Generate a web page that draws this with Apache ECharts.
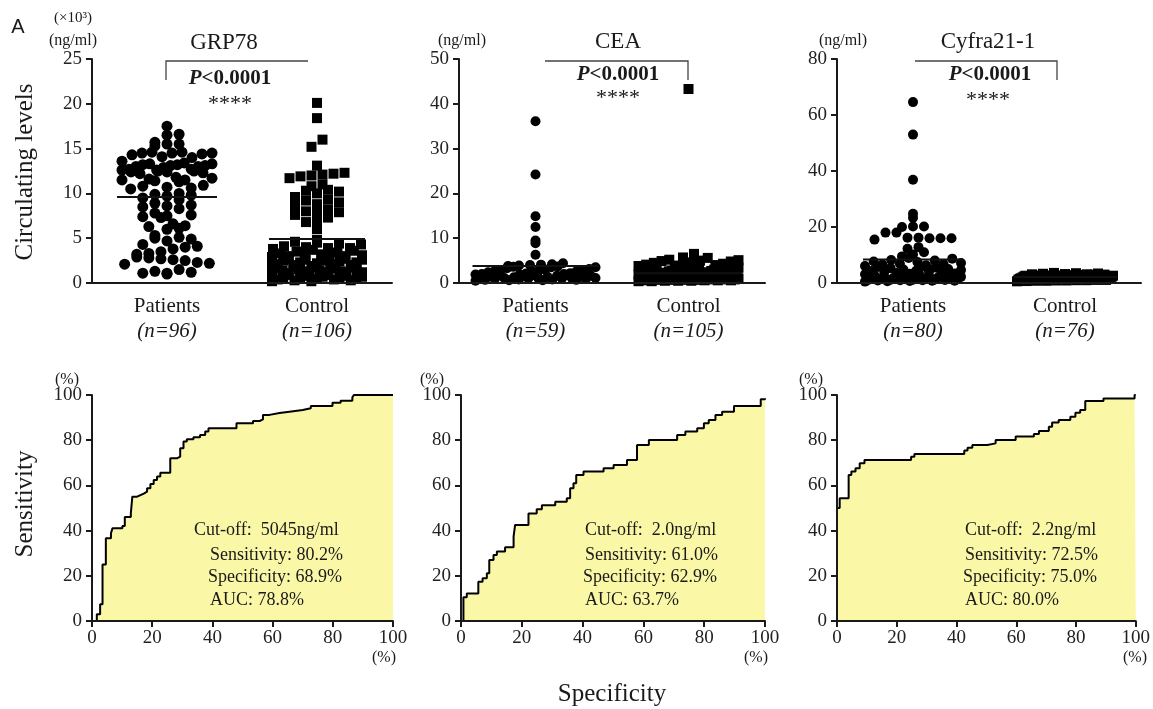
<!DOCTYPE html>
<html>
<head>
<meta charset="utf-8">
<script src="https://cdn.jsdelivr.net/npm/echarts@6/dist/echarts.min.js"></script>
<style>
  html, body { margin: 0; padding: 0; background: #fff; }
  #main { width: 1153px; height: 709px; }
</style>
</head>
<body>
<div id="main"></div>
<script>
// ---- data ----
const groups = ['Patients', 'Control'];

// GRP78 (x10^3 ng/ml)
const grpPatients = [17.5, 16.6, 16.5, 15.7, 15.5, 15.5, 15.3, 14.6, 14.5, 14.5, 14.4, 14.5, 14.3, 14.6, 14.0, 14.1, 13.6,
  13.3, 13.2, 13.1, 13.0, 13.2, 13.4, 13.1, 12.9, 13.0, 13.3,
  12.7, 12.6, 12.5, 12.4, 12.6, 12.5, 12.3, 12.7, 12.4, 12.2,
  11.8, 11.6, 11.5, 11.4, 11.7, 11.3, 11.5,
  10.9, 10.7, 10.6, 10.8, 10.5,
  10.0, 9.8, 9.7, 9.5, 9.9, 9.3,
  8.9, 8.6, 8.5, 8.3, 8.7,
  7.8, 7.5, 7.4, 7.3, 7.6,
  6.6, 6.3, 6.1, 6.4, 6.0,
  5.3, 5.0, 4.9, 5.1, 4.7,
  4.3, 4.0, 3.8, 4.1,
  3.5, 3.2, 3.3,
  2.9, 2.7, 2.6, 2.8, 2.5,
  2.3, 2.2, 2.1,
  1.5, 1.3, 1.2, 1.1, 1.1, 1.0];
const grpControl = [20.1, 18.4, 16.0, 15.2, 13.1, 12.3, 12.1, 11.9, 12.0, 12.2, 11.7, 11.0, 10.8, 10.3, 10.2, 10.0,
  10.4, 9.6, 9.2, 9.0, 9.3, 8.8, 8.6, 8.0, 7.9, 8.2, 7.8, 7.6, 7.0, 6.8, 7.3, 6.0,
  4.8, 4.6, 4.5, 4.4, 4.1, 4.0, 3.9, 3.9, 3.7, 3.6,
  3.5, 3.4, 3.3, 3.2, 3.1, 3.0, 3.0, 2.9, 2.8, 2.7,
  2.7, 2.6, 2.5, 2.5, 2.4, 2.3, 2.3, 2.2, 2.1, 2.1,
  2.0, 2.0, 1.9, 1.8, 1.8, 1.7, 1.6, 1.6, 1.5, 1.5,
  1.4, 1.4, 1.3, 1.3, 1.2, 1.2, 1.1, 1.1, 1.0, 1.0,
  0.9, 0.9, 0.8, 0.8, 0.7, 0.7, 0.6, 0.6, 0.5, 0.5,
  0.4, 0.4, 0.3, 0.3, 0.2, 0.2,
  3.8, 2.6, 1.7, 4.3, 2.9, 1.9, 3.1, 0.6];

// CEA (ng/ml)
const ceaPatients = [36.1, 24.2, 14.9, 12.5, 9.5, 8.9, 6.3,
  4.4, 4.2, 4.1, 3.9, 3.8, 3.6, 3.5, 3.5, 3.3, 3.1,
  3.0, 2.9, 2.8, 2.6, 2.6, 2.5, 2.4, 2.2, 2.1, 2.0,
  2.0, 1.9, 1.8, 1.8, 1.7, 1.6, 1.5, 1.5, 1.4, 1.4,
  1.3, 1.3, 1.2, 1.2, 1.1, 1.1, 1.0, 1.0, 0.9, 0.9,
  0.8, 0.8, 0.7, 0.7, 0.6, 0.6, 4.0, 3.7, 2.7, 1.6, 1.9, 0.5];
const ceaControl = [43.3, 6.5, 5.7, 5.6, 5.2, 5.1, 5.0, 4.9, 4.8, 4.6,
  4.5, 4.3, 4.2, 4.0, 3.9, 3.8, 3.6, 3.5, 3.4, 3.3,
  3.2, 3.1, 3.0, 3.0, 2.9, 2.8, 2.7, 2.7, 2.6, 2.5,
  2.5, 2.4, 2.3, 2.3, 2.2, 2.2, 2.1, 2.0, 2.0, 1.9,
  1.9, 1.8, 1.8, 1.7, 1.7, 1.6, 1.6, 1.5, 1.5, 1.5,
  1.4, 1.4, 1.4, 1.3, 1.3, 1.3, 1.2, 1.2, 1.2, 1.1,
  1.1, 1.1, 1.0, 1.0, 1.0, 0.9, 0.9, 0.9, 0.8, 0.8,
  0.8, 0.7, 0.7, 0.7, 0.6, 0.6, 0.6, 0.5, 0.5, 0.5,
  0.4, 0.4, 3.7, 2.4, 1.6, 1.2, 0.9, 4.1, 2.8, 1.9,
  1.3, 0.7, 3.2, 2.1, 1.4, 1.0, 0.6, 2.6, 1.7, 1.1,
  0.8, 3.5, 2.2, 1.5, 0.9];

// Cyfra21-1 (ng/ml)
const cyfPatients = [64.6, 53.0, 36.9, 24.7, 23.3, 20.2, 20.2, 20.0, 18.0, 18.0, 16.2, 16.0, 16.0, 16.0, 15.5, 16.2,
  12.8, 12.2, 11.0, 10.2, 9.5,
  8.9, 8.7, 8.2, 8.0, 7.7, 7.5, 7.1, 6.9, 6.6, 6.3,
  6.1, 5.9, 5.5, 5.3, 5.0, 4.8, 4.6, 4.4, 4.1, 3.9,
  3.8, 3.6, 3.4, 3.3, 3.1, 2.9, 2.8, 2.7, 2.5, 2.4,
  2.3, 2.2, 2.0, 1.9, 1.8, 1.7, 1.6, 1.5, 1.4, 1.3,
  1.2, 1.2, 1.1, 1.0, 1.0, 0.9, 0.8, 0.7, 0.6, 0.5,
  6.8, 4.3, 2.6, 1.5, 3.0, 5.7, 2.1, 1.1, 0.8];
const cyfControl = [3.6, 3.5, 3.4, 3.3, 3.2, 3.1, 3.0, 3.0, 2.9, 2.8,
  2.8, 2.7, 2.7, 2.6, 2.6, 2.5, 2.5, 2.4, 2.4, 2.3,
  2.3, 2.3, 2.2, 2.2, 2.2, 2.1, 2.1, 2.1, 2.0, 2.0,
  2.0, 1.9, 1.9, 1.9, 1.8, 1.8, 1.8, 1.7, 1.7, 1.7,
  1.6, 1.6, 1.6, 1.5, 1.5, 1.5, 1.4, 1.4, 1.4, 1.3,
  1.3, 1.3, 1.2, 1.2, 1.1, 1.1, 1.0, 1.0, 0.9, 0.9,
  0.8, 0.8, 0.7, 0.6, 2.4, 1.9, 1.5, 2.7, 2.0, 1.6,
  3.1, 1.2, 2.2, 1.8, 1.4, 2.5];

// mean lines: [patients, control]
const grpMeans = [9.6, 4.9];
const ceaMeans = [3.8, 2.2];
const cyfMeans = [8.4, 2.1];
const grpN = [96, 106];
const ceaN = [59, 105];
const cyfN = [80, 76];

// ROC curves: [100 - specificity %, sensitivity %]
const rocGrp = [[0, 0], [1.6, 3], [2.7, 7.4], [3.5, 25], [4.6, 36.6], [6.3, 38.8], [6.8, 41], [10.1, 42], [10.9, 46],
  [12.9, 47.6], [13.4, 55], [15, 55.7], [16.1, 56.4], [17.2, 57.2], [18.3, 58.7], [19.4, 60.6], [20.5, 62.4],
  [21.6, 63.9], [22.7, 65.6], [26, 72], [28.2, 72.7], [29.3, 76.4], [30.4, 79.4], [31.5, 80.4], [33.7, 81.3],
  [35.9, 82.3], [37.6, 83.8], [38.7, 85.3], [48, 87.5], [53.5, 88.5], [55.7, 89.2], [56.8, 91.2], [59, 92],
  [62.3, 92.6], [65.6, 93.4], [70, 94.1], [72.7, 95.1], [79.9, 96.6], [82.6, 97.5], [86.5, 99], [87, 100], [100, 100]];
const rocCea = [[0, 0], [0.8, 10.5], [1.9, 12.2], [5.7, 17.4], [7.1, 18.9], [8.5, 21.1], [9.3, 27], [10.7, 29.2],
  [11.8, 30.7], [14.5, 32.6], [17.3, 37.3], [17.8, 42.5], [22.2, 47.6], [24.9, 49.4], [26.6, 51.2], [31, 52.8],
  [34.8, 54.3], [35.9, 58.7], [37, 60.9], [37.9, 64.6], [40.3, 66.1], [46.9, 67.6], [50.2, 69], [54.6, 71.2],
  [57.9, 77.9], [61.8, 80.1], [71.1, 82.3], [73.8, 83.8], [77.7, 85.3], [79.9, 87.5], [81.5, 88.9], [83.7, 91.2],
  [85.9, 92.6], [89.8, 95.1], [98.6, 98.1], [100, 98.6]];
const rocCyf = [[0, 50], [0.9, 54.3], [3.9, 64.6], [4.8, 66.1], [6.2, 67.6], [7.6, 69.8], [9.2, 71.2], [24.8, 72.7],
  [25.9, 73.9], [42.6, 75.4], [43.7, 76.7], [45.3, 77.9], [50.3, 78.6], [53.1, 80.1], [59.8, 81.6], [65.9, 82.7],
  [67.6, 84.1], [70.9, 86], [72, 87.8], [74.2, 88.9], [78.1, 90.4], [79.8, 92.2], [81.4, 93.4], [83.1, 97.3],
  [89.2, 98.5], [99.6, 100], [100, 100]];

const cutoffs = ['5045ng/ml', '2.0ng/ml', '2.2ng/ml'];
const sens = ['80.2%', '61.0%', '72.5%'];
const specs = ['68.9%', '62.9%', '75.0%'];
const aucs = ['78.8%', '63.7%', '80.0%'];

// ---- layout ----
const FONT = 'Liberation Serif';
const INK = '#1a1a1a';
const topGrids = [
  { left: 92, top: 59, width: 300, height: 224 },
  { left: 459, top: 59, width: 306, height: 224 },
  { left: 837, top: 59, width: 304, height: 224 }
];
const rocGrids = [
  { left: 92, top: 395, width: 301, height: 226 },
  { left: 461, top: 395, width: 304, height: 226 },
  { left: 837, top: 395, width: 300, height: 226 }
];

function gcd(a, b) { return b ? gcd(b, a % b) : a; }

// GraphPad style column scatter: points in a value band are spread sideways
function swarm(values, yMax, g, center, sym, halfPx) {
  const binV = sym * 0.85 * yMax / g.height;
  const bins = {};
  values.forEach(v => {
    const k = Math.floor(v / binV);
    (bins[k] = bins[k] || []).push(v);
  });
  const out = [];
  Object.keys(bins).forEach(k => {
    const arr = bins[k].slice().sort((a, b) => a - b);
    const n = arr.length;
    const step = n > 1 ? Math.min(sym * 1.1, 2 * halfPx / (n - 1)) : 0;
    // fixed stride permutation so sorted values don't form a ramp
    const stride = [7, 5, 3, 11, 13].find(s => gcd(s, n) === 1) || 1;
    arr.forEach((v, i) => {
      const slot = (i * stride) % n;
      const off = (slot - (n - 1) / 2) * step;
      out.push([center + off / (g.width / 2), v]);
    });
  });
  return out;
}

const axisLine = { lineStyle: { color: INK, width: 2 } };
const axisTick = { length: 6, lineStyle: { color: INK, width: 2 } };
const axisLabel = { color: '#222', fontFamily: FONT, fontSize: 19, margin: 10 };

const panels = [
  { pat: grpPatients, con: grpControl, means: grpMeans, n: grpN, max: 25, step: 5, sym: [11, 10], half: [45, 45], mean: [50, 48] },
  { pat: ceaPatients, con: ceaControl, means: ceaMeans, n: ceaN, max: 50, step: 10, sym: [10, 10], half: [60, 50], mean: [63, 54] },
  { pat: cyfPatients, con: cyfControl, means: cyfMeans, n: cyfN, max: 80, step: 20, sym: [10, 10], half: [48, 48], mean: [50, 52] }
];
const rocs = [rocGrp, rocCea, rocCyf];

const grid = topGrids.concat(rocGrids);
const xAxis = [];
const yAxis = [];
const series = [];

panels.forEach((p, i) => {
  xAxis.push({
    type: 'category', gridIndex: i, data: groups, z: 10,
    axisLine, axisTick: Object.assign({ alignWithLabel: true }, axisTick),
    axisLabel: {
      margin: 11,
      formatter: (v, idx) => '{a|' + v + '}\n{b|(n=' + p.n[idx] + ')}',
      rich: {
        a: { fontFamily: FONT, fontSize: 21, color: INK, lineHeight: 25 },
        b: { fontFamily: FONT, fontSize: 21, fontStyle: 'italic', color: INK, lineHeight: 25 }
      }
    }
  });
});
panels.forEach((p, i) => {
  xAxis.push({ type: 'value', gridIndex: i, min: 0, max: 2, show: false });
  yAxis.push({
    type: 'value', gridIndex: i, min: 0, max: p.max, interval: p.step, z: 10,
    axisLine: Object.assign({ show: true }, axisLine), axisTick: Object.assign({ show: true }, axisTick),
    splitLine: { show: false }, axisLabel
  });
});
rocs.forEach((r, i) => {
  xAxis.push({
    type: 'value', gridIndex: 3 + i, min: 0, max: 100, interval: 20, z: 10,
    axisLine, axisTick, splitLine: { show: false },
    axisLabel: Object.assign({}, axisLabel, { margin: 8 })
  });
  yAxis.push({
    type: 'value', gridIndex: 3 + i, min: 0, max: 100, interval: 20, z: 10,
    axisLine: Object.assign({ show: true }, axisLine), axisTick: Object.assign({ show: true }, axisTick),
    splitLine: { show: false }, axisLabel
  });
});

panels.forEach((p, i) => {
  const g = topGrids[i];
  [p.pat, p.con].forEach((vals, k) => {
    const center = 0.5 + k;
    series.push({
      type: 'scatter', xAxisIndex: 3 + i, yAxisIndex: i,
      symbol: k === 0 ? 'circle' : 'rect', symbolSize: p.sym[k],
      itemStyle: { color: '#000', opacity: 1 }, clip: false,
      data: swarm(vals, p.max, g, center, p.sym[k], p.half[k])
    });
    const h = p.mean[k] / (g.width / 2);
    series.push({
      type: 'line', xAxisIndex: 3 + i, yAxisIndex: i, symbol: 'none', z: 5,
      lineStyle: { color: '#111', width: 2 },
      data: [[center - h, p.means[k]], [center + h, p.means[k]]]
    });
  });
});
rocs.forEach((r, i) => {
  series.push({
    type: 'line', xAxisIndex: 6 + i, yAxisIndex: 3 + i, step: 'end', symbol: 'none',
    lineStyle: { color: '#000', width: 2 },
    areaStyle: { color: '#FAF8A6', opacity: 1 },
    data: r
  });
});

// ---- annotations ----
function txt(text, x, y, size, opts) {
  return {
    type: 'text', x, y, z: 100,
    style: Object.assign({ text, fill: INK, font: size + 'px "' + FONT + '"', align: 'center', verticalAlign: 'middle' }, opts || {})
  };
}
function pText(x, y) {
  return {
    type: 'text', x, y, z: 100,
    style: {
      text: '{p|P}{q|<0.0001}', align: 'center', verticalAlign: 'middle',
      rich: {
        p: { fontFamily: FONT, fontSize: 21, fontWeight: 'bold', fontStyle: 'italic', fill: INK },
        q: { fontFamily: FONT, fontSize: 21, fontWeight: 'bold', fill: INK }
      }
    }
  };
}
function bracket(points) {
  return { type: 'polyline', z: 100, shape: { points }, style: { stroke: '#444', lineWidth: 1.3, fill: null } };
}

const graphic = [
  txt('A', 18, 27, 20, { font: '20px "Liberation Sans"' }),
  txt('(×10³)', 73, 18, 15),
  txt('(ng/ml)', 73, 41, 16),
  txt('(ng/ml)', 462, 41, 16),
  txt('(ng/ml)', 843, 41, 16),
  txt('GRP78', 224, 43, 23),
  txt('CEA', 618, 42, 23),
  txt('Cyfra21-1', 988, 42, 23),
  bracket([[166, 80], [166, 61], [308, 61]]),
  bracket([[545, 61], [688, 61], [688, 80]]),
  bracket([[915, 61], [1057, 61], [1057, 80]]),
  pText(230, 79), pText(618, 75), pText(990, 75),
  txt('****', 230, 104, 22),
  txt('****', 618, 98, 22),
  txt('****', 988, 100, 22),
  txt('Circulating levels', 25, 172, 25, { }),
  txt('Sensitivity', 25, 504, 25),
  txt('Specificity', 612, 694, 25),
  txt('(%)', 67, 380, 16), txt('(%)', 432, 380, 16), txt('(%)', 811, 380, 16),
  txt('(%)', 384, 658, 16), txt('(%)', 756, 658, 16), txt('(%)', 1135, 658, 16)
];
// rotate the y titles
graphic[graphic.length - 9].rotation = Math.PI / 2;
graphic[graphic.length - 8].rotation = Math.PI / 2;

const statX = [[194, 210], [585, 585], [965, 965]];
for (let i = 0; i < 3; i++) {
  const o = { align: 'left' };
  graphic.push(txt('Cut-off:  ' + cutoffs[i], statX[i][0], 530, 18, o));
  graphic.push(txt('Sensitivity: ' + sens[i], statX[i][1], 555, 18, o));
  graphic.push(txt('Specificity: ' + specs[i], statX[i][1] - 2, 577, 18, o));
  graphic.push(txt('AUC: ' + aucs[i], statX[i][1], 600, 18, o));
}

const chart = echarts.init(document.getElementById('main'));
chart.setOption({
  animation: false,
  backgroundColor: '#fff',
  grid, xAxis, yAxis, series, graphic
});
</script>
</body>
</html>
